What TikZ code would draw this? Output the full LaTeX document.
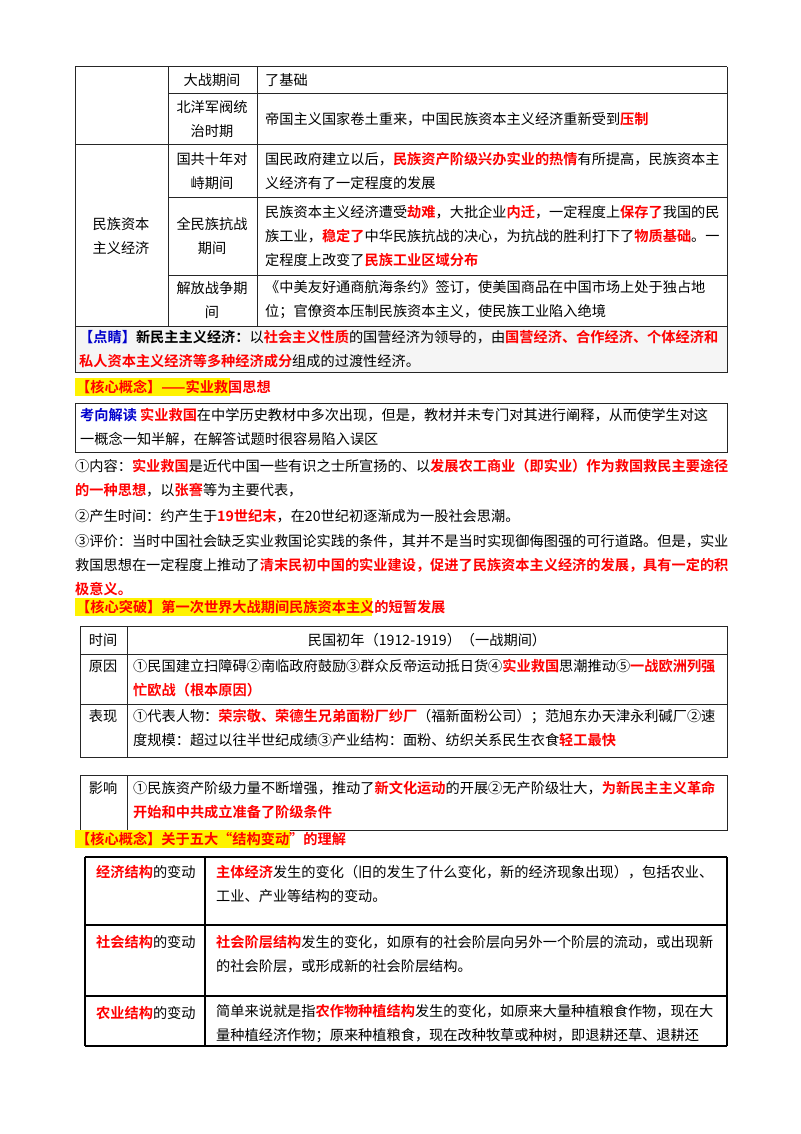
\documentclass[tikz,border=0pt]{standalone}
\usepackage{fontspec}
\setmainfont{Noto Sans CJK SC}
\newfontfamily\bfc{Noto Sans CJK SC Bold}
\begin{document}
\begin{tikzpicture}[x=1pt,y=-1pt,
  t/.style={anchor=west,inner sep=0pt,font=\fontsize{14.2}{24}\selectfont,align=left},
  c/.style={anchor=center,inner sep=0pt,font=\fontsize{14.2}{24}\selectfont,align=center},
  ln/.style={line width=1pt,draw=black!85}]
\newcommand\R[1]{{\bfc\color{red}#1}}
\newcommand\B[1]{{\bfc\color{blue!80!black}#1}}
\newcommand\K[1]{{\bfc #1}}
\useasboundingbox[fill=white] (0,0) rectangle (800,1134);
% table 1
\draw[ln] (75,67) -- (727,67) (168,94) -- (727,94) (75,145) -- (727,145) (168,197) -- (727,197) (168,275) -- (727,275) (75,326) -- (727,326);
\draw[ln] (75,67) -- (75,326) (168,67) -- (168,326) (257,67) -- (257,326) (727,67) -- (727,326);
\node[c] (a1) at (212,80) {大战期间};
\node[c] (a2) at (212,119) {北洋军阀统\\治时期};
\node[c] (a3) at (212,171) {国共十年对\\峙期间};
\node[c] (a4) at (212,236) {全民族抗战\\期间};
\node[c] (a5) at (212,300) {解放战争期\\间};
\node[c] (a0) at (121,236) {民族资本\\主义经济};
\node[t] (b1) at (265,80) {了基础};
\node[t] (b2) at (265,119) {帝国主义国家卷土重来，中国民族资本主义经济重新受到\R{压制}};
\node[t] (b3) at (265,171) {国民政府建立以后，\R{民族资产阶级兴办实业的热情}有所提高，民族资本主\\义经济有了一定程度的发展};
\node[t] (b4) at (265,236) {民族资本主义经济遭受\R{劫难}，大批企业\R{内迁}，一定程度上\R{保存了}我国的民\\族工业，\R{稳定了}中华民族抗战的决心，为抗战的胜利打下了\R{物质基础}。一\\定程度上改变了\R{民族工业区域分布}};
\node[t] (b5) at (265,300) {《中美友好通商航海条约》签订，使美国商品在中国市场上处于独占地\\位；官僚资本压制民族资本主义，使民族工业陷入绝境};
% dianjing
\draw[ln,fill=black!4] (75,326) rectangle (727,372);
\node[t] (dj) at (79,349) {\B{【点睛】}\K{新民主主义经济：}以\R{社会主义性质}的国营经济为领导的，由\R{国营经济、合作经济、个体经济和}\\\R{私人资本主义经济等多种经济成分}组成的过渡性经济。};
% heading 1
\fill[yellow] (75,378) rectangle (230,396);
\node[t] (h1) at (76,387) {\R{【核心概念】——实业救国思想}};
\draw[ln] (75,403) rectangle (727,452);
\node[t] (kx) at (80,427) {\B{考向解读} \R{实业救国}在中学历史教材中多次出现，但是，教材并未专门对其进行阐释，从而使学生对这\\一概念一知半解，在解答试题时很容易陷入误区};
\node[t] (p1) at (75,478) {①内容：\R{实业救国}是近代中国一些有识之士所宣扬的、以\R{发展农工商业（即实业）作为救国救民主要途径}\\\R{的一种思想}，以\R{张謇}等为主要代表，};
\node[t] (p2) at (75,516) {②产生时间：约产生于\R{19世纪末}，在20世纪初逐渐成为一股社会思潮。};
\node[t] (p3) at (75,565) {③评价：当时中国社会缺乏实业救国论实践的条件，其并不是当时实现御侮图强的可行道路。但是，实业\\救国思想在一定程度上推动了\R{清末民初中国的实业建设，促进了民族资本主义经济的发展，具有一定的积}\\\R{极意义。}};
\fill[yellow] (75,598) rectangle (372,616);
\node[t] (h2) at (76,607) {\R{【核心突破】第一次世界大战期间民族资本主义的短暂发展}};
% table 2
\draw[ln] (80,626) rectangle (727,757) (127,626) -- (127,757) (80,654) -- (727,654) (80,704) -- (727,704);
\node[c] (s1) at (103,640) {时间};
\node[c] (s2) at (103,666) {原因};
\node[c] (s3) at (103,716) {表现};
\node[c] (v1) at (427,640) {民国初年（1912-1919）（一战期间）};
\node[t] (v2) at (133,678) {①民国建立扫障碍②南临政府鼓励③群众反帝运动抵日货④\R{实业救国}思潮推动⑤\R{一战欧洲列强}\\\R{忙欧战（根本原因）}};
\node[t] (v3) at (133,728) {①代表人物：\R{荣宗敬、荣德生兄弟面粉厂纱厂}（福新面粉公司）；范旭东办天津永利碱厂②速\\度规模：超过以往半世纪成绩③产业结构：面粉、纺织关系民生衣食\R{轻工最快}};
\draw[ln] (80,775) rectangle (727,830) (127,775) -- (127,830);
\node[c] (s4) at (103,788) {影响};
\node[t] (v4) at (133,800) {①民族资产阶级力量不断增强，推动了\R{新文化运动}的开展②无产阶级壮大，\R{为新民主主义革命}\\\R{开始和中共成立准备了阶级条件}};
\fill[yellow] (75,830) rectangle (290,848);
\node[t] (h3) at (76,839) {\R{【核心概念】关于五大“结构变动”的理解}};
% table 4
\draw[line width=1.5pt] (85,857) -- (727,857) (85,925) -- (727,925) (85,996) -- (727,996) (85,1046) -- (727,1046);
\draw[line width=1.5pt] (85,857) -- (85,1046) (205,857) -- (205,1046) (727,857) -- (727,1046);
\node[t] (k1) at (96,872) {\R{经济结构}的变动};
\node[t] (k2) at (96,942) {\R{社会结构}的变动};
\node[t] (k3) at (96,1013) {\R{农业结构}的变动};
\node[t] (m1) at (216,884) {\R{主体经济}发生的变化（旧的发生了什么变化，新的经济现象出现），包括农业、\\工业、产业等结构的变动。};
\node[t] (m2) at (216,954) {\R{社会阶层结构}发生的变化，如原有的社会阶层向另外一个阶层的流动，或出现新\\的社会阶层，或形成新的社会阶层结构。};
\node[t] (m3) at (216,1024) {简单来说就是指\R{农作物种植结构}发生的变化，如原来大量种植粮食作物，现在大\\量种植经济作物；原来种植粮食，现在改种牧草或种树，即退耕还草、退耕还};
\end{tikzpicture}
\end{document}
